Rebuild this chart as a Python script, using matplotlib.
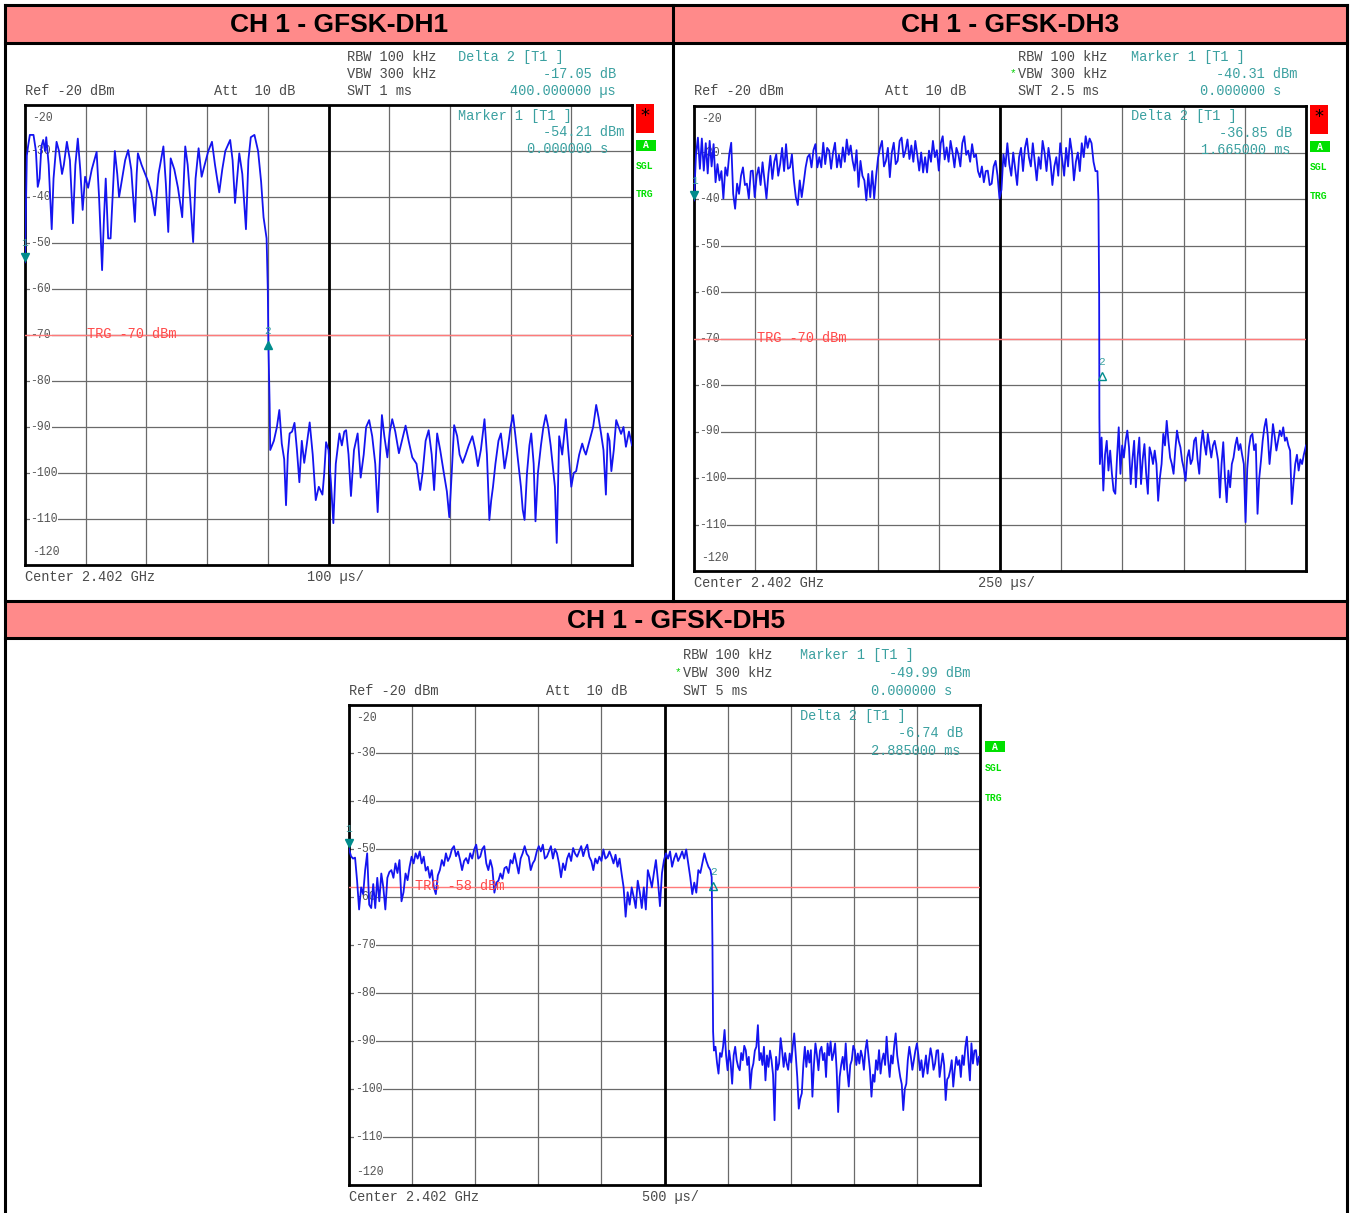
import matplotlib
matplotlib.use("Agg")
import matplotlib.pyplot as plt
import matplotlib.transforms as mtransforms
from matplotlib.patches import Rectangle
from matplotlib.lines import Line2D
import numpy as np

W, H = 1351, 1213
MONO = "Liberation Mono"
GREY = "#4a4a4a"
TEAL = "#3aa0a0"
TRACE = "#1414f0"

titles = ["CH 1 - GFSK-DH1", "CH 1 - GFSK-DH3", "CH 1 - GFSK-DH5"]
sweep_us = [1000, 2500, 5000]
div_label = ["100 \u00b5s/", "250 \u00b5s/", "500 \u00b5s/"]
swt_label = ["SWT 1 ms", "SWT 2.5 ms", "SWT 5 ms"]
trg_level = [-70, -70, -58]
m1_level = [-54.21, -40.31, -49.99]
m2_delta = [-17.05, -36.85, -6.74]
m2_time_us = [400, 1665, 2885]
m2_time_label = ["400.000000 \u00b5s", "1.665000 ms", "2.885000 ms"]

# DH1: (time us, level dBm)
dh1 = np.array([
    (0, -54.2), (3, -31), (5, -29), (8, -26.5), (14, -26.5), (18, -30), (21, -37.8), (24, -36),
    (27, -29), (30, -27.6), (33, -30), (35, -27), (39, -33), (44, -47), (47, -36), (52, -28),
    (56, -30), (61, -35), (64, -33), (69, -28), (74, -32), (79, -45.7), (83, -33), (87, -27.3),
    (91, -34), (95, -42.8), (99, -35.6), (104, -38), (110, -34), (118, -30.2), (122, -40),
    (127, -55.9), (130, -45), (133, -36), (137, -49), (141, -49), (145, -38), (148, -30),
    (152, -35), (155, -40), (160, -36), (165, -32), (170, -29.8), (175, -34), (181, -45.4),
    (184, -35), (186, -30.5), (192, -33), (198, -35), (203, -36.7), (208, -39), (214, -44),
    (220, -35), (228, -29), (232, -37), (236, -47.6), (240, -31.6), (246, -34), (252, -38),
    (259, -44.4), (264, -29), (268, -33), (272, -40), (277, -49.8), (281, -36), (286, -29.4),
    (291, -35.6), (296, -33), (302, -30), (308, -28), (313, -33), (320, -39), (325, -34),
    (330, -30), (338, -27.6), (342, -32), (346, -41.3), (350, -35), (353, -30.5), (358, -35),
    (364, -47), (368, -32), (372, -27), (378, -26.5), (384, -30), (389, -36.7), (393, -44.4),
    (398, -49), (400, -60), (401, -72), (403, -85), (404, -95),
    (410, -93), (415, -90), (419, -86.3), (423, -93.6), (427, -97), (430, -107), (433, -96),
    (436, -91.4), (440, -91), (444, -89.1), (448, -95), (452, -102), (456, -93), (460, -97.8),
    (464, -94), (469, -89), (474, -96), (479, -105.9), (484, -103), (490, -104.7), (493, -100),
    (496, -93.3), (500, -95), (504, -102), (508, -110.9), (512, -98), (518, -91.4), (522, -94),
    (526, -91), (529, -90.7), (533, -96), (537, -105), (542, -95), (548, -91.4), (553, -101),
    (558, -96), (562, -90), (567, -88.5), (572, -92), (577, -98), (581, -108.5), (585, -96),
    (588, -87.4), (592, -92), (597, -96.6), (601, -91), (605, -88.3), (610, -91), (616, -95.7),
    (621, -93), (627, -89.7), (632, -93), (638, -96.6), (645, -98), (651, -103.7), (655, -100),
    (660, -93), (665, -90.7), (670, -96), (674, -103.7), (679, -91.4), (684, -95), (690, -100),
    (695, -104), (699, -109.6), (703, -100), (707, -89.6), (712, -92), (716, -96), (721, -97.8),
    (726, -96), (731, -94), (737, -92), (742, -95), (746, -98.5), (751, -95), (757, -88.3),
    (761, -96), (765, -110.2), (768, -106), (771, -103), (775, -98), (780, -93), (784, -91.4),
    (787, -95), (790, -99), (795, -95), (800, -90), (804, -87.4), (808, -92), (812, -97),
    (817, -103), (820, -108), (823, -110.2), (827, -100), (831, -94), (834, -91.4), (838, -98),
    (841, -110.5), (845, -100), (850, -94), (854, -90), (858, -87.4), (862, -90), (866, -94),
    (869, -97.8), (873, -103), (876, -115.2), (878, -104), (880, -92), (885, -96), (891, -88.3),
    (895, -95), (900, -103), (904, -100), (908, -99.6), (913, -96), (918, -93.6), (921, -95),
    (924, -96), (930, -93), (936, -90), (941, -85.2), (945, -88), (949, -91.4), (953, -95),
    (957, -104.7), (960, -91.4), (963, -93), (966, -99.6), (970, -95), (974, -88.5), (978, -90),
    (982, -91.5), (986, -90), (990, -94.3), (995, -91), (1000, -94),
])

# DH3 burst: levels every 8 us from t=0, then the falling edge and the noise floor
dh3_step_us = 8
dh3_burst = [
    -40.3, -30.5, -26.8, -33.5, -27.0, -33.9, -28.0, -34.5, -27.5, -33.0,
    -28.2, -36.4, -32.5, -36.0, -34.0, -39.9, -33.2, -35.0, -30.4, -27.9,
    -38.9, -42.1, -36.7, -38.9, -35.0, -33.2, -37.0, -36.7, -39.9, -34.0,
    -33.9, -39.6, -35.0, -33.2, -37.0, -32.1, -36.0, -39.9, -34.6, -30.7,
    -35.7, -32.0, -30.4, -35.0, -32.5, -29.0, -34.0, -28.2, -33.5, -33.2,
    -30.4, -36.0, -39.6, -41.3, -36.0, -39.6, -36.5, -33.2, -31.0, -30.4,
    -33.2, -29.5, -28.2, -33.2, -31.0, -33.2, -27.9, -32.5, -29.0, -29.6,
    -33.5, -30.0, -27.9, -33.2, -30.5, -33.2, -28.9, -32.0, -27.2, -30.5,
    -28.5, -31.8, -33.9, -29.5, -37.4, -31.8, -35.0, -36.0, -40.3, -34.6,
    -39.6, -34.0, -39.9, -35.0, -31.1, -29.0, -27.5, -33.0, -31.8, -29.0,
    -35.3, -30.0, -27.9, -32.5, -31.8, -27.5, -26.8, -31.0, -29.6, -27.2,
    -31.4, -28.5, -32.0, -27.5, -30.5, -33.9, -30.0, -34.3, -31.0, -34.3,
    -29.6, -32.0, -27.5, -31.0, -29.5, -33.9, -28.0, -26.5, -31.5, -28.9,
    -32.0, -27.5, -30.0, -33.2, -29.0, -30.4, -33.0, -28.0, -26.5, -30.5,
    -29.6, -32.0, -28.2, -31.0, -30.4, -34.0, -35.3, -33.0, -36.4, -34.0,
    -33.9, -37.0, -36.7, -33.0, -31.8, -35.0, -39.9, -38.0, -30.4, -33.0,
    -28.0, -32.5, -35.0, -30.0, -33.5, -37.0, -31.0, -29.0, -34.0, -29.0,
    -27.0, -31.0, -33.0, -28.0, -32.0, -36.0, -31.0, -33.5, -27.5, -30.0,
    -34.0, -29.0, -32.0, -37.0, -33.0, -31.0, -35.0, -28.0, -31.5, -35.0,
    -29.0, -33.0, -27.0, -30.0, -36.0, -32.0, -30.0, -34.0, -28.0, -31.0,
    -26.5, -29.0, -27.0, -28.0, -32.0, -34.0, -34.0,
]
dh3_tail = np.array([
    (1652, -40), (1655, -60), (1656, -87),
    (1658, -97), (1665, -91.3), (1672, -102.7), (1679, -95), (1686, -92), (1693, -98.4),
    (1700, -94.1), (1707, -99), (1714, -102.7), (1721, -103.4), (1728, -95.6), (1735, -89.1),
    (1742, -99.1), (1749, -93), (1756, -95.6), (1763, -92), (1770, -89.8), (1777, -93.4),
    (1784, -101.3), (1791, -96), (1798, -92), (1805, -102), (1812, -95.6), (1819, -91.3),
    (1826, -101.3), (1833, -96), (1840, -92.7), (1847, -99), (1854, -103.4), (1861, -93.4),
    (1868, -94.8), (1875, -97), (1882, -94.1), (1889, -97), (1896, -104.9), (1903, -100),
    (1910, -97), (1917, -90.5), (1924, -93), (1931, -87.7), (1938, -92), (1945, -95.6),
    (1952, -97), (1959, -99.1), (1966, -94), (1973, -89.8), (1980, -92), (1987, -93.4),
    (1994, -96.3), (2001, -98), (2008, -100.6), (2015, -95.6), (2022, -94), (2029, -97),
    (2036, -96), (2043, -92), (2050, -91.3), (2057, -96), (2064, -99.1), (2071, -93),
    (2078, -89.8), (2085, -92.7), (2092, -95), (2099, -90.5), (2106, -93), (2113, -95.6),
    (2120, -93), (2127, -92), (2134, -94), (2141, -96.3), (2148, -104.2), (2155, -97),
    (2162, -92.3), (2169, -100), (2176, -105.2), (2183, -98.4), (2190, -102), (2197, -97),
    (2204, -95.6), (2211, -93), (2218, -91.3), (2225, -94), (2232, -92.7), (2239, -95),
    (2246, -97), (2253, -109.5), (2260, -98), (2267, -93.4), (2274, -91), (2281, -90.5),
    (2288, -94), (2295, -92.7), (2302, -107.7), (2309, -100), (2316, -96.3), (2323, -92),
    (2330, -89.1), (2337, -87.3), (2344, -91), (2351, -97), (2358, -93), (2365, -88.4),
    (2372, -91), (2379, -94.1), (2386, -92), (2393, -89.8), (2400, -91), (2407, -89.1),
    (2414, -92), (2421, -91.3), (2428, -93), (2435, -94.1), (2442, -105.6), (2449, -101),
    (2456, -97), (2463, -95), (2470, -98.4), (2477, -96), (2484, -97), (2491, -95),
    (2498, -93.4), (2500, -93),
])

# DH5 burst: levels every 16 us from t=0, then the falling edge
dh5_step_us = 16
dh5_burst = [
    -50.0, -51.5, -52.0, -51.8, -56.6, -62.6, -58.0, -59.4, -54.4, -50.9,
    -61.6, -62.3, -57.3, -62.3, -56.0, -60.9, -55.1, -58.0, -62.6, -56.0,
    -54.8, -54.4, -56.0, -53.0, -55.0, -52.3, -60.9, -59.0, -55.1, -56.5,
    -53.7, -51.6, -53.0, -50.9, -52.0, -50.5, -53.0, -51.6, -54.5, -53.7,
    -56.0, -54.4, -58.0, -59.4, -55.5, -54.4, -52.3, -53.5, -50.9, -52.5,
    -51.6, -50.0, -49.4, -51.5, -50.5, -52.3, -54.4, -52.5, -51.9, -53.0,
    -50.9, -52.0, -50.1, -49.1, -52.0, -51.6, -50.0, -49.4, -53.0, -54.4,
    -52.3, -54.0, -59.1, -57.0, -56.6, -55.1, -56.2, -54.0, -53.7, -55.0,
    -52.3, -53.0, -50.9, -53.0, -55.1, -52.0, -50.9, -49.4, -51.0, -51.6,
    -54.4, -53.0, -52.3, -50.5, -49.4, -50.5, -49.1, -52.0, -51.6, -50.5,
    -49.4, -52.0, -50.0, -50.9, -53.0, -55.9, -53.0, -54.4, -52.0, -50.9,
    -52.5, -49.8, -51.0, -51.6, -50.5, -49.4, -51.5, -50.0, -49.1, -51.6,
    -52.5, -54.4, -52.0, -53.0, -51.6, -52.5, -50.1, -52.0, -51.6, -50.5,
    -51.6, -53.0, -51.2, -53.7, -52.0, -55.1, -58.0, -64.1, -59.0, -61.6,
    -58.0, -60.0, -62.3, -56.6, -59.0, -62.3, -58.0, -62.6, -54.4, -56.0,
    -58.0, -55.0, -52.3, -56.6, -61.9, -55.0, -52.3, -50.9, -52.0, -50.5,
    -53.7, -52.0, -50.9, -52.5, -51.6, -50.5, -52.0, -50.1, -53.0, -55.9,
    -59.4, -57.0, -59.1, -54.4, -55.0, -53.0, -50.9, -52.5, -53.7, -54.4,
]
dh5_edge = np.array([(2874, -55.9), (2880, -70), (2885, -88)])
# DH5 noise floor: levels every 12 us from t=2892
dh5_floor_start_us = 2892
dh5_floor_step_us = 12
dh5_floor = [
    -92.0, -91.2, -94.5, -96.8, -92.5, -93.3, -91.2, -87.7, -93.0, -96.1,
    -92.0, -94.5, -98.9, -93.0, -91.2, -94.0, -95.4, -96.1, -92.5, -94.0,
    -91.0, -91.9, -95.0, -93.3, -99.9, -96.0, -94.7, -92.0, -91.2, -86.7,
    -94.0, -92.5, -95.0, -91.2, -98.2, -93.0, -95.4, -92.0, -94.0, -97.0,
    -106.5, -93.3, -96.0, -94.7, -89.4, -92.0, -95.4, -92.5, -94.7, -96.0,
    -92.6, -94.5, -91.2, -88.4, -93.0, -97.5, -104.1, -102.0, -100.9, -95.0,
    -91.2, -95.4, -92.0, -94.5, -91.9, -101.6, -95.0, -90.5, -93.0, -96.1,
    -92.0, -91.2, -94.0, -92.5, -97.5, -90.5, -93.0, -90.1, -94.0, -92.6,
    -90.5, -96.0, -104.8, -97.5, -95.0, -93.3, -96.0, -90.5, -96.1, -99.5,
    -95.0, -94.0, -91.0, -91.9, -95.0, -92.6, -94.7, -92.0, -93.3, -96.0,
    -91.9, -89.8, -93.0, -96.1, -101.6, -97.0, -98.5, -94.0, -96.0, -91.9,
    -96.8, -94.0, -92.6, -95.0, -89.1, -94.0, -97.5, -93.0, -94.7, -91.0,
    -88.4, -93.0, -95.4, -97.5, -99.0, -104.4, -100.0, -98.9, -94.0, -91.2,
    -93.3, -96.0, -94.0, -92.0, -90.5, -93.0, -96.1, -94.0, -97.5, -95.4,
    -93.0, -96.8, -94.0, -91.5, -93.3, -96.0, -94.7, -92.0, -91.9, -97.5,
    -95.0, -92.6, -95.0, -102.3, -98.0, -97.5, -96.1, -94.0, -99.5, -96.0,
    -93.3, -95.0, -94.0, -97.5, -93.0, -95.0, -91.2, -89.1, -94.0, -98.2,
    -90.5, -94.7, -92.0, -91.9, -95.0, -93.3,
]


def uniform(levels, start, step):
    t = start + np.arange(len(levels)) * step
    return np.column_stack([t, levels])


traces = [
    dh1,
    np.concatenate([uniform(dh3_burst, 0, dh3_step_us), dh3_tail]),
    np.concatenate([uniform(dh5_burst, 0, dh5_step_us), dh5_edge,
                    uniform(dh5_floor, dh5_floor_start_us, dh5_floor_step_us)]),
]

# panel layout in pixels of the 1351x1213 canvas
panels = [
    dict(ax=(25, 105, 632, 565), hdr_x=347, hdr_y=(57, 74, 91), att_x=214, star=False,
         top_name="Delta 2 [T1 ]", in_name="Marker 1 [T1 ]", name_x=458,
         top_vals=((543, "%.2f dB"), (510, None)), in_vals=((543, "%.2f dBm"), (527, None)),
         in_y=(116, 132, 149), side_x=636, red=(104, 133), green=(140, 151), sgl_y=166, trg_y=194,
         trg_x=87, foot_y=577, div_x=307, filled_m2=True),
    dict(ax=(694, 106, 1306, 571), hdr_x=1018, hdr_y=(57, 74, 91), att_x=885, star=True,
         top_name="Marker 1 [T1 ]", in_name="Delta 2 [T1 ]", name_x=1131,
         top_vals=((1216, "%.2f dBm"), (1200, None)), in_vals=((1219, "%.2f dB"), (1201, None)),
         in_y=(116, 133, 150), side_x=1310, red=(105, 134), green=(141, 152), sgl_y=167, trg_y=196,
         trg_x=757, foot_y=583, div_x=978, filled_m2=False),
    dict(ax=(349, 705, 980, 1185), hdr_x=683, hdr_y=(655, 673, 691), att_x=546, star=True,
         top_name="Marker 1 [T1 ]", in_name="Delta 2 [T1 ]", name_x=800,
         top_vals=((889, "%.2f dBm"), (871, None)), in_vals=((898, "%.2f dB"), (871, None)),
         in_y=(716, 733, 751), side_x=985, red=None, green=(741, 752), sgl_y=768, trg_y=798,
         trg_x=415, foot_y=1197, div_x=642, filled_m2=False),
]

fig = plt.figure(figsize=(W / 100, H / 100), dpi=100)
fig.patch.set_facecolor("white")


def fx(px):
    return px / W


def fy(py):
    return 1 - py / H


def ftext(px, py, s, **kw):
    kw.setdefault("family", MONO)
    kw.setdefault("fontsize", 9.8)
    kw.setdefault("color", GREY)
    kw.setdefault("va", "center")
    fig.text(fx(px), fy(py), s, **kw)


def frect(x0, y0, x1, y1, color):
    fig.add_artist(Rectangle((fx(x0), fy(y1)), (x1 - x0) / W, (y1 - y0) / H,
                             transform=fig.transFigure, facecolor=color, edgecolor="none"))


def fline(x0, y0, x1, y1, lw=2.2):
    fig.add_artist(Line2D([fx(x0), fx(x1)], [fy(y0), fy(y1)], color="black", lw=lw))


# title bars and frame
bars = [(5, 5, 673, 43), (673, 5, 1347, 43), (5, 601, 1347, 638)]
for (x0, y0, x1, y1), title in zip(bars, titles):
    frect(x0, y0, x1, y1, "#ff8a8a")
    fig.text(fx((x0 + x1) / 2), fy((y0 + y1) / 2 + 1), title, ha="center", va="center",
             family="Liberation Sans", weight="bold", fontsize=19)
for seg in [(5, 5, 1347, 5), (5, 43, 1347, 43), (5, 601, 1347, 601), (5, 638, 1347, 638),
            (5, 5, 5, 1213), (1347, 5, 1347, 1213), (673, 5, 673, 601)]:
    fline(*seg)

for i, p in enumerate(panels):
    x0, y0, x1, y1 = p["ax"]
    ax = fig.add_axes([fx(x0), fy(y1), (x1 - x0) / W, (y1 - y0) / H])
    span = sweep_us[i]
    ax.set_xlim(0, span)
    ax.set_ylim(-120, -20)
    ax.set_xticks(np.linspace(0, span, 11))
    ax.set_yticks(np.arange(-110, -20, 10))
    ax.grid(True, color="#6a6a6a", lw=0.9)
    ax.tick_params(length=0, labelbottom=False, labelleft=False)
    for s in ax.spines.values():
        s.set_linewidth(2)
        s.set_color("black")
    ax.axvline(span / 2, color="black", lw=2, zorder=2)

    # level labels on the left inside the grid
    tr = mtransforms.blended_transform_factory(ax.transAxes, ax.transData)
    for v in range(-30, -120, -10):
        ax.text(0.009, v, str(v), transform=tr, family=MONO, fontsize=8.3, color="#555555",
                va="center", ha="left", zorder=2.5,
                bbox=dict(facecolor="white", edgecolor="none", pad=0.3))
    ax.text(0.012, 0.985, "-20", transform=ax.transAxes, family=MONO, fontsize=8.3,
            color="#555555", va="top", zorder=2.5)
    ax.text(0.012, 0.015, "-120", transform=ax.transAxes, family=MONO, fontsize=8.3,
            color="#555555", va="bottom", zorder=2.5)

    # trigger level
    ax.axhline(trg_level[i], color="#ff7a7a", lw=1, zorder=2.6)

    # trace
    ax.plot(traces[i][:, 0], traces[i][:, 1], color=TRACE, lw=1.3, zorder=3)

    # markers
    m2 = m1_level[i] + m2_delta[i]
    ax.plot([0], [m1_level[i] + 1.2], marker="v", ms=6, color="#008c8c", clip_on=False, zorder=4)
    ax.text(0, m1_level[i] + 3.2, "1", color=TEAL, family=MONO, fontsize=8, ha="center",
            va="bottom", zorder=4)
    ax.plot([m2_time_us[i]], [m2 - 1.0], marker="^", ms=6, color="#008c8c",
            mfc="#008c8c" if p["filled_m2"] else "none", mew=1, zorder=4)
    ax.text(m2_time_us[i], m2 + 1.0, "2", color=TEAL, family=MONO, fontsize=8, ha="center",
            va="bottom", zorder=4)

    # header text
    hx = p["hdr_x"]
    ry = p["hdr_y"]
    ftext(hx, ry[0], "RBW 100 kHz")
    ftext(hx, ry[1], "VBW 300 kHz")
    if p["star"]:
        ftext(hx - 8, ry[1] - 1, "*", color="#00d000", fontsize=8)
    ftext(hx, ry[2], swt_label[i])
    ftext(x0, ry[2], "Ref -20 dBm")
    ftext(p["att_x"], ry[2], "Att  10 dB")

    if i == 0:
        top_vals = [m2_delta[i], m2_time_label[i]]
        in_vals = [m1_level[i], "0.000000 s"]
    else:
        top_vals = [m1_level[i], "0.000000 s"]
        in_vals = [m2_delta[i], m2_time_label[i]]

    ftext(p["name_x"], ry[0], p["top_name"], color=TEAL)
    ftext(p["top_vals"][0][0], ry[1], p["top_vals"][0][1] % top_vals[0], color=TEAL)
    ftext(p["top_vals"][1][0], ry[2], top_vals[1], color=TEAL)
    iy = p["in_y"]
    ftext(p["name_x"], iy[0], p["in_name"], color=TEAL, zorder=5)
    ftext(p["in_vals"][0][0], iy[1], p["in_vals"][0][1] % in_vals[0], color=TEAL, zorder=5)
    ftext(p["in_vals"][1][0], iy[2], in_vals[1], color=TEAL, zorder=5)

    # trigger label
    ty = y0 + (-20 - trg_level[i]) / 100 * (y1 - y0)
    ftext(p["trg_x"], ty - 1, "TRG %d dBm" % trg_level[i], color="#ff4a4a", zorder=5)

    # footer
    ftext(x0, p["foot_y"], "Center 2.402 GHz")
    ftext(p["div_x"], p["foot_y"], div_label[i])

    # side indicators
    sx = p["side_x"]
    if p["red"]:
        frect(sx, p["red"][0], sx + 18, p["red"][1], "#ff0000")
        ftext(sx + 9, p["red"][0] + 12, "*", ha="center", color="black", fontsize=13,
              family="DejaVu Sans")
    frect(sx, p["green"][0], sx + 20, p["green"][1], "#00e000")
    ftext(sx + 10, (p["green"][0] + p["green"][1]) / 2, "A", ha="center", color="white",
          fontsize=7, weight="bold")
    ftext(sx, p["sgl_y"], "SGL", color="#00e000", fontsize=7, weight="bold")
    ftext(sx, p["trg_y"], "TRG", color="#00e000", fontsize=7, weight="bold")

fig.savefig("out.png", dpi=100)
